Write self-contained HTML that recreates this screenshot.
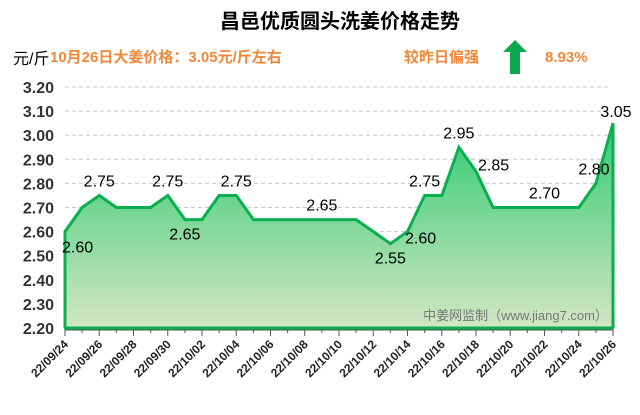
<!DOCTYPE html>
<html><head><meta charset="utf-8"><style>
body{margin:0;background:#fff;width:640px;height:410px;overflow:hidden}
svg text{font-family:"Liberation Sans","Noto Sans CJK SC",sans-serif}
</style></head><body>
<svg id="c" width="640" height="410">
<defs><linearGradient id="g" x1="0" y1="0" x2="0" y2="1"><stop offset="0" stop-color="#2fcb72"/><stop offset="1" stop-color="#d3e7c3"/></linearGradient></defs>
<text x="340" y="28" text-anchor="middle" font-size="20" font-weight="bold" fill="#000">昌邑优质圆头洗姜价格走势</text>
<text x="13" y="64" font-size="16" fill="#000">元/斤</text>
<text x="50" y="62" font-size="15" font-weight="bold" fill="#f0883a">10月26日大姜价格：3.05元/斤左右</text>
<text x="404" y="62" font-size="15" font-weight="bold" fill="#f0883a">较昨日偏强</text>
<polygon points="515,40 527,52 520,52 520,74 510,74 510,52 503,52" fill="#0aa84f"/>
<text x="545" y="62" font-size="15" font-weight="bold" fill="#f0883a">8.93%</text>
<g id="grid"></g><g id="plot"></g><g id="axes"></g>
<text x="608" y="320" text-anchor="end" font-size="13" fill="#777">中姜网监制（www.jiang7.com）</text>
</svg>
<script>
const dates=["22/09/24","22/09/25","22/09/26","22/09/27","22/09/28","22/09/29","22/09/30","22/10/01","22/10/02","22/10/03","22/10/04","22/10/05","22/10/06","22/10/07","22/10/08","22/10/09","22/10/10","22/10/11","22/10/12","22/10/13","22/10/14","22/10/15","22/10/16","22/10/17","22/10/18","22/10/19","22/10/20","22/10/21","22/10/22","22/10/23","22/10/24","22/10/25","22/10/26"];
const prices=[2.60,2.70,2.75,2.70,2.70,2.70,2.75,2.65,2.65,2.75,2.75,2.65,2.65,2.65,2.65,2.65,2.65,2.65,2.60,2.55,2.60,2.75,2.75,2.95,2.85,2.70,2.70,2.70,2.70,2.70,2.70,2.80,3.05];
const yTicks=[2.20,2.30,2.40,2.50,2.60,2.70,2.80,2.90,3.00,3.10,3.20];
const labelIdx=[0,2,6,7,8,10,15,19,20,21,23,24,28,31,32];
const labelPos=["below","above","above","below","","above","above","below","below","above","above","right","above","above","above"];
const X0=65,X1=613,Y0=328,Y1=87,vmin=2.2,vmax=3.2;
const xs=i=>X0+(X1-X0)*i/(dates.length-1);
const ys=v=>Y0-(Y0-Y1)*(v-vmin)/(vmax-vmin);
const NS="http://www.w3.org/2000/svg";
function mk(t,a,p){const e=document.createElementNS(NS,t);for(const k in a)e.setAttribute(k,a[k]);p.appendChild(e);return e;}
const grid=document.getElementById('grid'),plot=document.getElementById('plot'),axes=document.getElementById('axes');
yTicks.forEach(v=>{
 if(v>vmin+0.001){const l=mk('line',{x1:X0,x2:610,y1:ys(v),y2:ys(v),stroke:'#c8c8c8','stroke-dasharray':'4,3'},grid);
 
 }
 const t=mk('text',{x:54,y:ys(v)+6,'text-anchor':'end','font-size':16,'font-weight':'bold',fill:'#333'},axes);t.textContent=v.toFixed(2);
 
 
});
let pts=prices.map((v,i)=>xs(i).toFixed(1)+','+ys(v).toFixed(1)).join(' ');
const area=mk('polygon',{points:X0+','+Y0+' '+pts+' '+X1+','+Y0,fill:'url(#g)'},plot);


const line=mk('polyline',{points:X0+','+Y0+' '+pts+' '+X1+','+Y0,fill:'none',stroke:'#0aaf50','stroke-width':3,'stroke-linejoin':'miter'},plot);


const base=mk('line',{x1:X0-1,x2:X1+1,y1:Y0,y2:Y0,stroke:'#0aaf50','stroke-width':3},plot);


const ax=mk('line',{x1:X0,x2:X1,y1:Y0+2,y2:Y0+2,stroke:'#555','stroke-width':1},axes);


dates.forEach((d,i)=>{
 const x=xs(i);const major=i%2===0;
 const tk=mk('line',{x1:x,x2:x,y1:Y0+2,y2:Y0+(major?8:5),stroke:'#555'},axes);
 
 
 if(major){const t=mk('text',{x:x+4,y:Y0+17,'text-anchor':'end','font-size':12,'font-weight':'bold',fill:'#222',transform:`rotate(-45 ${x+4} ${Y0+17})`},axes);t.textContent=d;
 
 }
});
labelIdx.forEach((i,k)=>{
 const pos=labelPos[k];if(!pos)return;
 let x=xs(i),y=ys(prices[i]);let ta='middle';
 if(pos==='above')y-=9;else if(pos==='below')y+=20;else{x+=3;y-=2;ta='start';}
 if(i===0){x=62;ta='start';y=ys(prices[i])+21;}
 if(i===32){x=616;ta='middle';y=ys(prices[i])-6;}
 if(i===31){x=594;ta='middle';}
 if(i===24){x=478;ta='start';y=ys(prices[i])-1;}
 if(i===20){x=405;ta='start';y=ys(prices[i])+12;}
 const t=mk('text',{x:x,y:y,'text-anchor':ta,'font-size':16,fill:'#000'},plot);t.textContent=prices[i].toFixed(2);
 
 
});
</script>
</body></html>
